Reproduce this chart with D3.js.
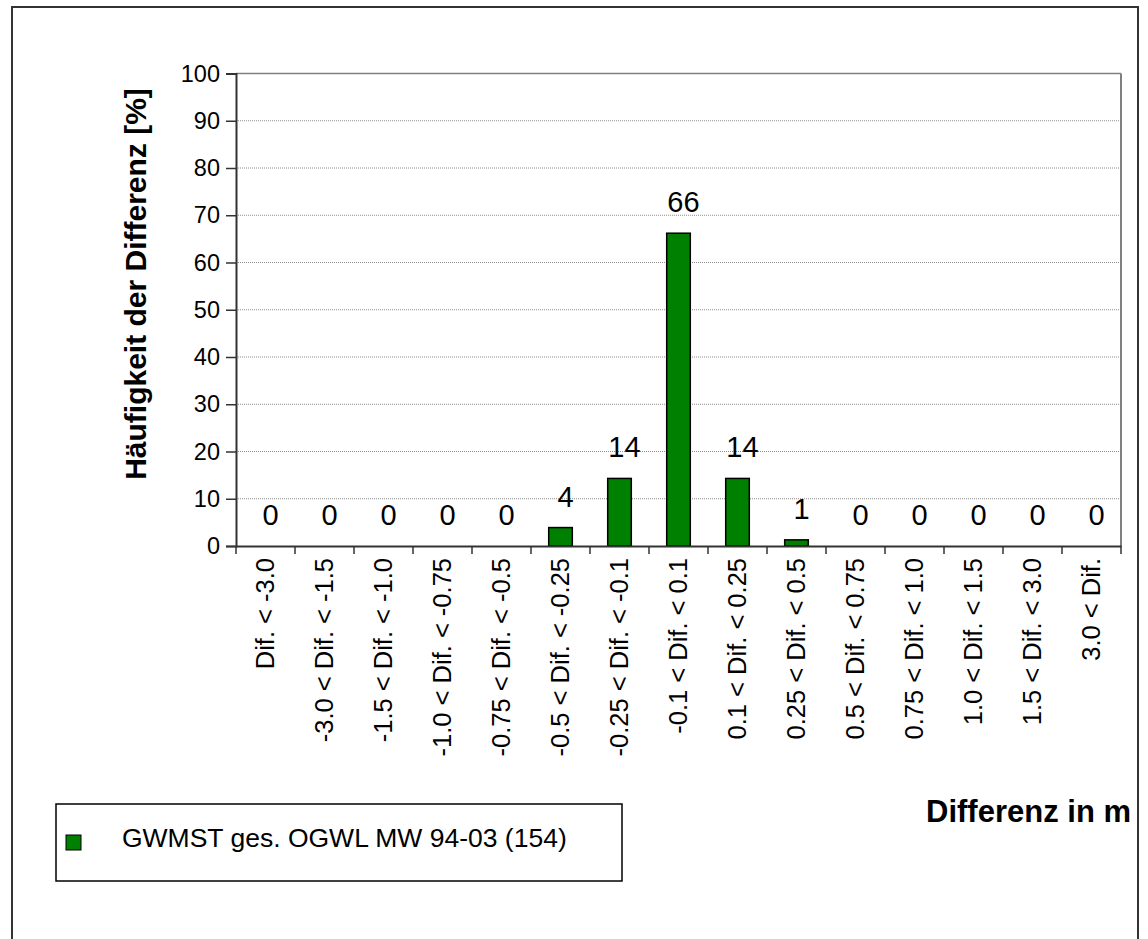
<!DOCTYPE html>
<html>
<head>
<meta charset="utf-8">
<script src="https://cdn.jsdelivr.net/npm/d3@7"></script>
<style>
  html, body { margin: 0; padding: 0; background: #fff; }
  svg { display: block; font-family: "Liberation Sans", Arial, Helvetica, sans-serif; }
</style>
</head>
<body>
<svg id="chart" width="1148" height="939"></svg>
<script>
// Difference classes (m) and share of stations per class (%)
const categories = [
  "Dif. < -3.0",
  "-3.0 < Dif. < -1.5",
  "-1.5 < Dif. < -1.0",
  "-1.0 < Dif. < -0.75",
  "-0.75 < Dif. < -0.5",
  "-0.5 < Dif. < -0.25",
  "-0.25 < Dif. < -0.1",
  "-0.1 < Dif. < 0.1",
  "0.1 < Dif. < 0.25",
  "0.25 < Dif. < 0.5",
  "0.5 < Dif. < 0.75",
  "0.75 < Dif. < 1.0",
  "1.0 < Dif. < 1.5",
  "1.5 < Dif. < 3.0",
  "3.0 < Dif."
];
const shares = [0, 0, 0, 0, 0, 3.9, 14.3, 66.2, 14.3, 1.3, 0, 0, 0, 0, 0];
const yTicks = [0, 10, 20, 30, 40, 50, 60, 70, 80, 90, 100];
const seriesName = "GWMST ges. OGWL MW 94-03 (154)";
const yTitle = "Häufigkeit der Differenz [%]";
const xTitle = "Differenz in m";

const svg = d3.select("#chart");
const green = "#008000";

// Outer frame
svg.append("rect")
  .attr("x", 12).attr("y", 7).attr("width", 1126).attr("height", 945)
  .attr("fill", "none").attr("stroke", "#333").attr("stroke-width", 2);

const plot = { left: 236, right: 1121, top: 73.5, bottom: 546 };

const x = d3.scaleBand().domain(categories).range([plot.left, plot.right]);
const y = d3.scaleLinear().domain([0, 100]).range([plot.bottom, plot.top]);

// Dotted gridlines
svg.append("g")
  .selectAll("line")
  .data(yTicks.filter(t => t > 0 && t < 100))
  .join("line")
  .attr("x1", plot.left).attr("x2", plot.right)
  .attr("y1", d => y(d)).attr("y2", d => y(d))
  .attr("stroke", "#8c8c8c").attr("stroke-width", 1)
  .attr("stroke-dasharray", "1,1");

// Plot frame: top and right edges
svg.append("line")
  .attr("x1", plot.left).attr("x2", plot.right)
  .attr("y1", y(100)).attr("y2", y(100))
  .attr("stroke", "#808080").attr("stroke-width", 1.5);
svg.append("line")
  .attr("x1", plot.right).attr("x2", plot.right)
  .attr("y1", y(100)).attr("y2", y(0))
  .attr("stroke", "#808080").attr("stroke-width", 2);

// Bars
const barW = x.bandwidth() * 0.4;
svg.append("g")
  .selectAll("rect")
  .data(categories.map((c, i) => ({ c, v: shares[i] })))
  .join("rect")
  .attr("x", d => x(d.c) + (x.bandwidth() - barW) / 2)
  .attr("y", d => y(d.v))
  .attr("width", barW)
  .attr("height", d => y(0) - y(d.v))
  .attr("fill", green)
  .attr("stroke", "#000").attr("stroke-width", 1.5);

// Value labels
const fmt = d3.format(".0f");
svg.append("g")
  .selectAll("text")
  .data(categories.map((c, i) => ({ c, v: shares[i] })))
  .join("text")
  .attr("x", d => x(d.c) + x.bandwidth() / 2 + 5)
  .attr("y", d => y(d.v) - 21)
  .attr("text-anchor", "middle")
  .attr("font-size", 29)
  .attr("fill", "#000")
  .text(d => fmt(d.v));

// Y axis
const yAxis = svg.append("g")
  .attr("transform", `translate(${plot.left},0)`)
  .call(d3.axisLeft(y).tickValues(yTicks).tickSize(10).tickPadding(6).tickFormat(d3.format("d")));
yAxis.select(".domain").attr("stroke", "#333").attr("stroke-width", 2);
yAxis.selectAll(".tick line").attr("stroke", "#333").attr("stroke-width", 1.5);
yAxis.selectAll(".tick text")
  .attr("font-size", 23.5).attr("fill", "#000")
  .attr("font-family", "Liberation Sans, Arial, sans-serif");

// X axis: baseline, boundary ticks and rotated class labels
const xAxis = svg.append("g")
  .attr("transform", `translate(0,${plot.bottom})`)
  .call(d3.axisBottom(x).tickSize(0).tickPadding(0));
xAxis.select(".domain").attr("stroke", "#333").attr("stroke-width", 2);
xAxis.selectAll(".tick text")
  .attr("font-size", 25.5).attr("fill", "#000")
  .attr("font-family", "Liberation Sans, Arial, sans-serif")
  .attr("text-anchor", "end")
  .attr("transform", "rotate(-90)")
  .attr("x", -12).attr("y", 0).attr("dy", "0.33em");

const bounds = categories.map(c => x(c)).concat([x.range()[1]]);
svg.append("g")
  .selectAll("line")
  .data(bounds)
  .join("line")
  .attr("x1", d => d).attr("x2", d => d)
  .attr("y1", plot.bottom).attr("y2", plot.bottom + 8)
  .attr("stroke", "#333").attr("stroke-width", 1.5);

// Axis titles
svg.append("text")
  .attr("transform", `translate(146,284) rotate(-90)`)
  .attr("text-anchor", "middle")
  .attr("font-size", 30).attr("font-weight", "bold")
  .text(yTitle);

svg.append("text")
  .attr("x", 1131).attr("y", 822)
  .attr("text-anchor", "end")
  .attr("font-size", 31).attr("font-weight", "bold")
  .text(xTitle);

// Legend
const legend = svg.append("g");
legend.append("rect")
  .attr("x", 56).attr("y", 804).attr("width", 566).attr("height", 77)
  .attr("fill", "#fff").attr("stroke", "#000").attr("stroke-width", 1.5);
legend.append("rect")
  .attr("x", 66).attr("y", 835).attr("width", 15).attr("height", 15)
  .attr("fill", green).attr("stroke", "#000").attr("stroke-width", 1);
legend.append("text")
  .attr("x", 122).attr("y", 847)
  .attr("font-size", 26.5)
  .text(seriesName);
</script>
</body>
</html>
